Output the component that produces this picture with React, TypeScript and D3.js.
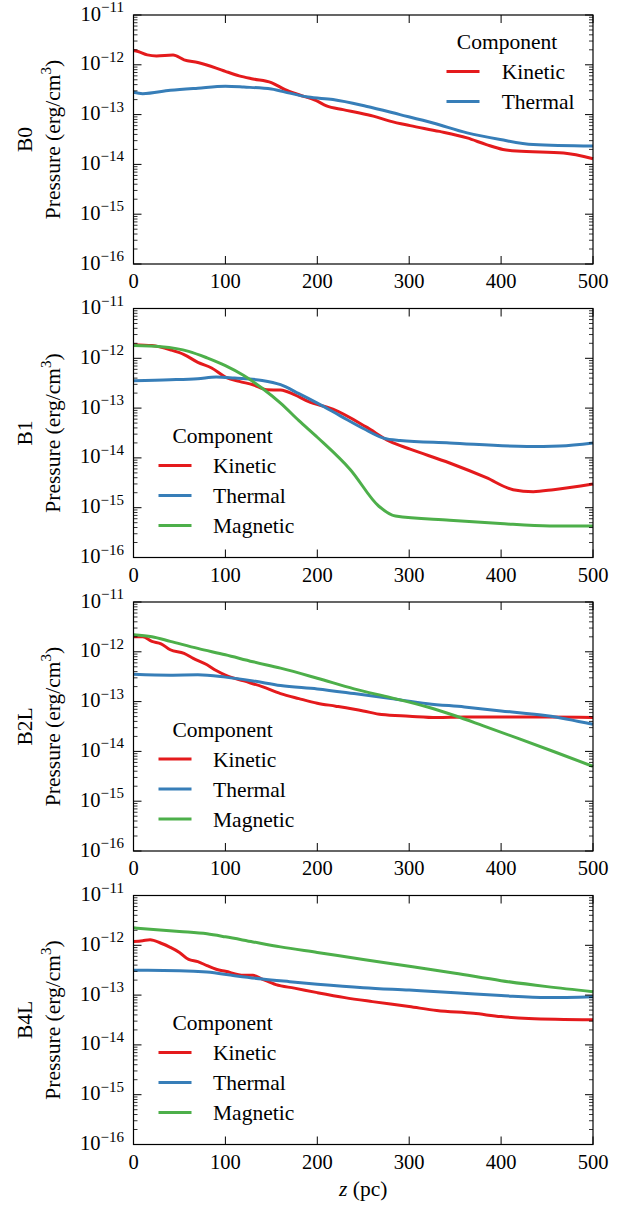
import React from "react";
import * as d3 from "d3";

// ---- data (z in pc, pressure in erg/cm^3) ----
const xTicks = [0, 100, 200, 300, 400, 500];
const yDecades = [-11, -12, -13, -14, -15, -16];
const panelNames = ["B0", "B1", "B2L", "B4L"];
const componentNames = ["Kinetic", "Thermal", "Magnetic"];
const componentColors = ["#e41a1c", "#377eb8", "#4daf4a"];

const b0Kinetic: [number, number][] = [
  [0, 1.94e-12], [5, 1.85e-12], [15, 1.58e-12], [25, 1.51e-12], [43, 1.58e-12], [55, 1.26e-12],
  [70, 1.11e-12], [90, 8.6e-13], [100, 7.4e-13], [115, 6.0e-13], [130, 5.2e-13], [150, 4.4e-13],
  [165, 3.16e-13], [180, 2.5e-13], [199, 1.9e-13], [210, 1.5e-13], [228, 1.26e-13], [246, 1.08e-13],
  [261, 9.3e-14], [279, 7.4e-14], [301, 6.0e-14], [333, 4.6e-14], [363, 3.4e-14], [384, 2.5e-14],
  [402, 2.0e-14], [417, 1.85e-14], [468, 1.7e-14], [500, 1.3e-14],
];
const b0Thermal: [number, number][] = [
  [0, 2.8e-13], [10, 2.63e-13], [40, 3.07e-13], [70, 3.4e-13], [100, 3.7e-13], [120, 3.57e-13],
  [150, 3.26e-13], [170, 2.7e-13], [190, 2.25e-13], [217, 2.0e-13], [253, 1.47e-13], [290, 1.0e-13],
  [326, 6.8e-14], [363, 4.3e-14], [399, 3.16e-14], [435, 2.5e-14], [500, 2.33e-14],
];

const b1Kinetic: [number, number][] = [
  [0, 1.88e-12], [20, 1.8e-12], [40, 1.48e-12], [55, 1.19e-12], [70, 8.3e-13], [85, 6.4e-13],
  [100, 4.2e-13], [115, 3.44e-13], [130, 2.95e-13], [145, 2.34e-13], [160, 2.3e-13], [175, 1.86e-13],
  [190, 1.36e-13], [217, 9.5e-14], [253, 4.2e-14], [279, 2.14e-14], [301, 1.5e-14], [344, 7.9e-15],
  [384, 4.0e-15], [413, 2.3e-15], [435, 2.1e-15], [457, 2.3e-15], [500, 3.0e-15],
];
const b1Thermal: [number, number][] = [
  [0, 3.55e-13], [40, 3.7e-13], [70, 3.9e-13], [90, 4.2e-13], [110, 4.0e-13], [140, 3.6e-13],
  [160, 2.95e-13], [180, 1.95e-13], [200, 1.26e-13], [225, 7.0e-14], [250, 3.9e-14], [272, 2.5e-14],
  [290, 2.24e-14], [344, 2.0e-14], [428, 1.7e-14], [464, 1.74e-14], [500, 2.0e-14],
];
const b1Magnetic: [number, number][] = [
  [0, 1.8e-12], [30, 1.7e-12], [60, 1.38e-12], [80, 1.02e-12], [100, 7.1e-13], [120, 4.5e-13],
  [140, 2.5e-13], [160, 1.26e-13], [180, 5.6e-14], [200, 2.6e-14], [236, 5.8e-15], [267, 1.07e-15],
  [285, 6.8e-16], [344, 5.6e-16], [399, 4.8e-16], [453, 4.3e-16], [500, 4.3e-16],
];

const b2Kinetic: [number, number][] = [
  [0, 2.0e-12], [10, 2.0e-12], [20, 1.62e-12], [30, 1.45e-12], [40, 1.1e-12], [55, 9.3e-13],
  [65, 7.4e-13], [80, 5.5e-13], [90, 4.2e-13], [100, 3.4e-13], [120, 2.6e-13], [140, 2.0e-13],
  [160, 1.45e-13], [180, 1.15e-13], [200, 9.3e-14], [220, 8.1e-14], [250, 6.5e-14], [270, 5.5e-14],
  [300, 5.1e-14], [330, 4.8e-14], [360, 4.9e-14], [400, 4.9e-14], [450, 4.9e-14], [500, 4.8e-14],
];
const b2Thermal: [number, number][] = [
  [0, 3.55e-13], [40, 3.4e-13], [70, 3.45e-13], [100, 3.1e-13], [130, 2.6e-13], [160, 2.1e-13],
  [200, 1.8e-13], [240, 1.45e-13], [280, 1.15e-13], [320, 9.1e-14], [360, 7.8e-14], [400, 6.5e-14],
  [450, 5.2e-14], [500, 3.5e-14],
];
const b2Magnetic: [number, number][] = [
  [0, 2.2e-12], [20, 2.0e-12], [40, 1.62e-12], [70, 1.17e-12], [100, 8.7e-13], [130, 6.3e-13],
  [160, 4.7e-13], [200, 2.95e-13], [240, 1.8e-13], [280, 1.2e-13], [320, 7.8e-14], [350, 5.2e-14],
  [380, 3.3e-14], [420, 1.78e-14], [460, 9.5e-15], [500, 5.0e-15],
];

const b4Kinetic: [number, number][] = [
  [0, 1.19e-12], [10, 1.24e-12], [18, 1.29e-12], [30, 1.1e-12], [40, 9.1e-13], [50, 7.2e-13],
  [60, 5.2e-13], [70, 4.7e-13], [80, 3.9e-13], [90, 3.3e-13], [100, 3.0e-13], [120, 2.5e-13],
  [130, 2.5e-13], [140, 2.1e-13], [155, 1.62e-13], [175, 1.38e-13], [200, 1.12e-13], [230, 8.9e-14],
  [260, 7.4e-14], [300, 5.9e-14], [330, 4.9e-14], [370, 4.3e-14], [400, 3.7e-14], [430, 3.4e-14],
  [500, 3.2e-14],
];
const b4Thermal: [number, number][] = [
  [0, 3.16e-13], [50, 3.1e-13], [80, 2.9e-13], [110, 2.45e-13], [140, 2.1e-13], [170, 1.86e-13],
  [200, 1.66e-13], [250, 1.41e-13], [300, 1.26e-13], [350, 1.12e-13], [400, 9.8e-14], [450, 8.9e-14],
  [500, 9.3e-14],
];
const b4Magnetic: [number, number][] = [
  [0, 2.24e-12], [50, 1.9e-12], [80, 1.7e-12], [100, 1.48e-12], [130, 1.17e-12], [160, 9.3e-13],
  [200, 7.2e-13], [250, 5.2e-13], [300, 3.8e-13], [350, 2.75e-13], [400, 1.95e-13], [450, 1.48e-13],
  [500, 1.17e-13],
];

const panelSeries = [
  [b0Kinetic, b0Thermal],
  [b1Kinetic, b1Thermal, b1Magnetic],
  [b2Kinetic, b2Thermal, b2Magnetic],
  [b4Kinetic, b4Thermal, b4Magnetic],
];

// ---- layout ----
const W = 629;
const H = 1205;
const X0 = 133.5;
const X1 = 593;
const TOPS = [15, 308.5, 602, 895.5];
const PH = 249;
const FONT = "'Liberation Serif', 'Times New Roman', serif";
const FS = 21.5;
const TFS = 20.5;

const x = d3.scaleLinear().domain([0, 500]).range([X0, X1]);

function Panel({ idx }: { idx: number }) {
  const top = TOPS[idx];
  const bottom = top + PH;
  const y = d3.scaleLog().domain([1e-16, 1e-11]).range([bottom, top]);
  const series = panelSeries[idx];
  const line = d3
    .line<[number, number]>()
    .x((d) => x(d[0]))
    .y((d) => y(d[1]))
    .curve(d3.curveMonotoneX);

  const minor: number[] = [];
  for (let e = -16; e < -11; e++) for (let k = 2; k <= 9; k++) minor.push(k * Math.pow(10, e));

  const cy = (top + bottom) / 2;
  const legendTopRight = idx === 0;
  const lx0 = legendTopRight ? 446.5 : 158.5;
  const lineLen = 33;
  const textX = legendTopRight ? 501.7 : 213;
  const titleX = legendTopRight ? 507 : 222.7;
  const rowY0 = legendTopRight ? top + 56.5 : top + 157;
  const titleY = rowY0 - 22.5;

  return (
    <g>
      {series.map((s, i) => (
        <path key={i} d={line(s) || ""} fill="none" stroke={componentColors[i]} strokeWidth={3} />
      ))}
      <rect x={X0} y={top} width={X1 - X0} height={PH} fill="none" stroke="#000" strokeWidth={1.2} />
      {xTicks.map((t) => (
        <g key={"x" + t}>
          <line x1={x(t)} x2={x(t)} y1={bottom} y2={bottom - 8} stroke="#000" strokeWidth={1} />
          <line x1={x(t)} x2={x(t)} y1={top} y2={top + 8} stroke="#000" strokeWidth={1} />
          <text x={x(t)} y={bottom + 24} textAnchor="middle" fontSize={TFS} fontFamily={FONT}>
            {t}
          </text>
        </g>
      ))}
      {yDecades.map((e) => {
        const yy = y(Math.pow(10, e));
        return (
          <g key={"y" + e}>
            <line x1={X0} x2={X0 + 8} y1={yy} y2={yy} stroke="#000" strokeWidth={1} />
            <line x1={X1} x2={X1 - 8} y1={yy} y2={yy} stroke="#000" strokeWidth={1} />
            <text x={124} y={yy + 5.5} textAnchor="end" fontSize={TFS} fontFamily={FONT}>
              <tspan>10</tspan>
              <tspan dy={-8.5} fontSize={15}>{"\u2212" + Math.abs(e)}</tspan>
            </text>
          </g>
        );
      })}
      {minor.map((v, i) => (
        <g key={"m" + i}>
          <line x1={X0} x2={X0 + 4} y1={y(v)} y2={y(v)} stroke="#000" strokeWidth={0.8} />
          <line x1={X1} x2={X1 - 4} y1={y(v)} y2={y(v)} stroke="#000" strokeWidth={0.8} />
        </g>
      ))}
      <text transform={`translate(32,${cy}) rotate(-90)`} textAnchor="middle" fontSize={FS} fontFamily={FONT}>
        {panelNames[idx]}
      </text>
      <text transform={`translate(59.5,${cy}) rotate(-90)`} textAnchor="middle" fontSize={FS} fontFamily={FONT}>
        <tspan>Pressure (erg/cm</tspan>
        <tspan dy={-8.5} fontSize={15}>3</tspan>
        <tspan dy={8.5}>)</tspan>
      </text>
      <text x={titleX} y={titleY} textAnchor="middle" fontSize={FS} fontFamily={FONT}>
        Component
      </text>
      {series.map((_, i) => {
        const ry = rowY0 + i * 30;
        return (
          <g key={"l" + i}>
            <line x1={lx0} x2={lx0 + lineLen} y1={ry} y2={ry} stroke={componentColors[i]} strokeWidth={3} />
            <text x={textX} y={ry + 7.5} fontSize={FS} fontFamily={FONT}>
              {componentNames[i]}
            </text>
          </g>
        );
      })}
    </g>
  );
}

export default function App() {
  return (
    <svg
      width={W}
      height={H}
      viewBox={`0 0 ${W} ${H}`}
      style={{ position: "absolute", left: 0, top: 0, background: "#fff" }}
    >
      <rect width={W} height={H} fill="#fff" />
      {panelNames.map((_, i) => (
        <Panel key={i} idx={i} />
      ))}
      <text x={(X0 + X1) / 2} y={1196} textAnchor="middle" fontSize={FS} fontFamily={FONT}>
        <tspan fontStyle="italic">z</tspan>
        <tspan> (pc)</tspan>
      </text>
    </svg>
  );
}
